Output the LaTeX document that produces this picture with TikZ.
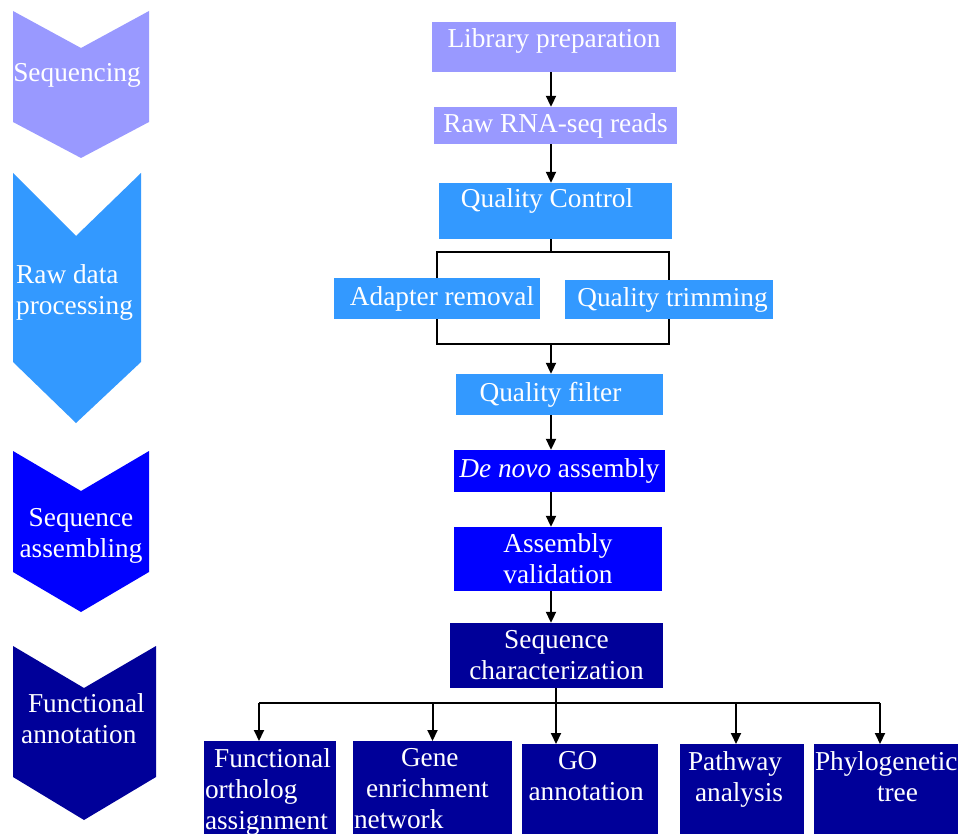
\documentclass[tikz,border=0pt]{standalone}
\usepackage{fontspec}
\setmainfont{Liberation Serif}
\usepackage{xcolor}
\usepackage{tikz}
\usetikzlibrary{positioning, arrows.meta}
\definecolor{seqcol}{HTML}{9999FF}
\definecolor{rawcol}{HTML}{3399FF}
\definecolor{asmcol}{HTML}{0000FF}
\definecolor{anncol}{HTML}{000099}
\tikzstyle{block}=[rectangle, text=white, inner sep=0pt, align=center, font=\fontsize{27.3}{31}\selectfont]
\tikzstyle{seqblock}=[block, fill=seqcol]
\tikzstyle{rawblock}=[block, fill=rawcol]
\tikzstyle{asmblock}=[block, fill=asmcol]
\tikzstyle{annblock}=[block, fill=anncol]
\tikzstyle{leaf}=[annblock, anchor=north, align=left, inner xsep=1pt, inner ysep=7.4pt, text depth=80pt]
\tikzstyle{stagetext}=[block]
\tikzstyle{wire}=[line width=2pt]
\tikzstyle{flow}=[wire, ->]

\begin{document}
\begin{tikzpicture}[x=1pt, y=-1pt, >={Triangle[length=11pt,width=10pt]}]
		\useasboundingbox (0,0) rectangle (958,834);
		\clip (0,0) rectangle (958,834);
		% stage chevrons
		\fill[seqcol] (13,11) -- (81,48) -- (149,11) -- (149,122) -- (81,158) -- (13,122) -- cycle;
		\fill[rawcol] (13,173) -- (76,236) -- (141,173) -- (141,362) -- (76,423) -- (13,362) -- cycle;
		\fill[asmcol] (13,451) -- (81,491) -- (149,451) -- (149,572) -- (81,612) -- (13,572) -- cycle;
		\fill[anncol] (13,646) -- (84,688) -- (156,646) -- (156,777) -- (84,820) -- (13,777) -- cycle;
		\node[stagetext] (seqlab) at (77,75) {Sequencing};
		\node[stagetext, anchor=west, align=left] (rawlab) at (16,292.5) {Raw data\\processing};
		\node[stagetext] (asmlab) at (81,536) {Sequence\\assembling};
		\node[stagetext, anchor=west, align=left] (annlab) at (21,719) {~Functional\\annotation};
		%---------------------
		\node[seqblock, minimum width=244pt, minimum height=50pt, text height=18.6pt, text depth=18pt] (lib) at (554,47) {Library preparation};
		\node[seqblock, minimum width=243pt, minimum height=37pt] (raw) at (555.5,125.5) {Raw RNA-seq reads};
		\node[rawblock, minimum width=233pt, minimum height=56pt, text height=18.6pt, text depth=25pt] (qc) at (555.5,211) {Quality Control\hspace*{17pt}};
		\node[rawblock, minimum width=206pt, minimum height=41pt] (adapter) at (437,298.5) {\hspace*{10pt}Adapter removal};
		\node[rawblock, minimum width=208pt, minimum height=39pt] (trim) at (669,299.5) {\hspace*{7pt}Quality trimming};
		\node[rawblock, minimum width=207pt, minimum height=41pt] (filt) at (559.5,394.5) {Quality filter\hspace*{18pt}};
		\node[asmblock, minimum width=211pt, minimum height=42pt] (denovo) at (559.5,471) {\textit{De novo} assembly};
		\node[asmblock, minimum width=208pt, minimum height=64pt] (valid) at (558,559) {Assembly\\validation};
		\node[annblock, minimum width=213pt, minimum height=65pt] (seqchar) at (556.5,655.5) {Sequence\\characterization};
		\node[leaf, text width=130pt] (fo) at (270,741) {~Functional\\ortholog\\assignment};
		\node[leaf, text width=157pt] (ge) at (432.5,741) {\hspace*{47pt}Gene\\\hspace*{12pt}enrichment\\network};
		\node[leaf, text width=134pt] (go) at (590,744) {\hspace*{35pt}GO\\\hspace*{5.5pt}annotation};
		\node[leaf, text width=122pt] (pa) at (742,744) {\hspace*{7pt}Pathway\\\hspace*{14pt}analysis};
		\node[leaf, text width=144pt] (ph) at (887,744) {Phylogenetic\\\hspace*{62pt}tree};
		%---------------------
		\coordinate (spine) at (551,0);
		\draw[flow] (lib.south -| spine) -- (raw.north -| spine);
		\draw[flow] (raw.south -| spine) -- (qc.north -| spine);
		\coordinate (split) at (551,252);
		\draw[wire] (qc.south -| spine) -- (split);
		\draw[wire] (adapter.north) |- (split) -| (trim.north);
		\coordinate (join) at (551,344);
		\draw[wire] (adapter.south) |- (join) -| (trim.south);
		\draw[flow] (join) -- (filt.north -| join);
		\draw[flow] (filt.south -| spine) -- (denovo.north -| spine);
		\draw[flow] (denovo.south -| spine) -- (valid.north -| spine);
		\draw[flow] (valid.south -| spine) -- (seqchar.north -| spine);
		%---------------------
		\coordinate (fan) at (556,703);
		\draw[wire] (seqchar.south -| fan) -- (fan);
		\draw[wire] ([xshift=-11pt]fo.north |- fan) -- ([xshift=-7pt]ph.north |- fan);
		\draw[flow] (fan) -- (fan |- go.north);
		\foreach \b/\dx in {fo/-11, ge/0, pa/-6, ph/-7}
			\draw[flow] ([xshift=\dx pt]\b.north |- fan) -- ([xshift=\dx pt]\b.north);
	\end{tikzpicture}
\end{document}
